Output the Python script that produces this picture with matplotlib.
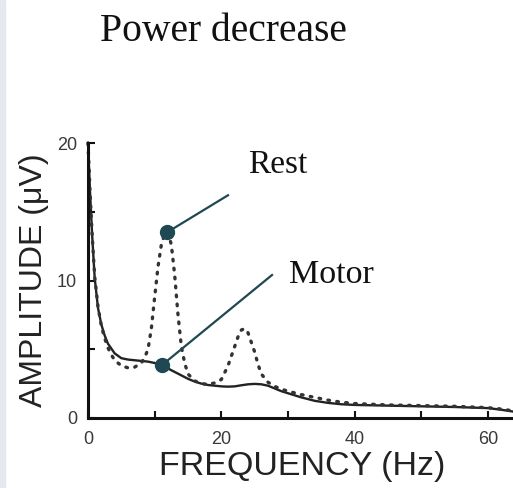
import numpy as np
import matplotlib
matplotlib.use("Agg")
import matplotlib.pyplot as plt
from matplotlib.patches import Rectangle

# 周波数 (Hz) と振幅 (µV) -- 図から読み取った値
motor_freq = [0, 0.3, 0.6, 1.0, 1.5, 2.0, 2.5, 3.0, 4.0, 5.0, 6.0, 7.0, 8.0, 9.0,
              10.0, 11.0, 12.0, 13.0, 14.0, 15.0, 16.0, 17.0, 18.0, 19.0, 20.0,
              21.0, 22.0, 23.0, 24.0, 25.0, 26.0, 27.0, 28.0, 29.0, 30.0, 32.0,
              34.0, 36.0, 38.0, 40.0, 45.0, 50.0, 55.0, 60.0, 62.0, 64.0]
motor_amp = [20, 16.5, 13.5, 10.2, 8.0, 6.8, 6.0, 5.4, 4.7, 4.35, 4.25, 4.2, 4.15,
             4.1, 4.0, 3.85, 3.6, 3.35, 3.1, 2.85, 2.65, 2.5, 2.4, 2.35, 2.3,
             2.28, 2.3, 2.38, 2.45, 2.48, 2.45, 2.35, 2.15, 1.95, 1.8, 1.5,
             1.25, 1.1, 1.0, 0.95, 0.9, 0.85, 0.8, 0.72, 0.6, 0.45]

rest_freq = [0, 0.3, 0.6, 1.0, 1.5, 2.0, 2.5, 3.0, 3.5, 4.0, 5.0, 6.0, 7.0, 8.0,
             8.5, 9.0, 9.5, 10.0, 10.5, 11.0, 11.5, 12.0, 12.5, 13.0, 13.5, 14.0,
             14.5, 15.0, 16.0, 17.0, 18.0, 19.0, 20.0, 21.0, 22.0, 22.5, 23.0,
             23.5, 24.0, 24.5, 25.0, 25.5, 26.0, 27.0, 28.0, 29.0, 30.0, 32.0,
             34.0, 36.0, 38.0, 40.0, 45.0, 50.0, 55.0, 60.0, 62.0, 64.0]
rest_amp = [20, 16.5, 13.5, 10.3, 8.1, 6.7, 5.8, 5.1, 4.6, 4.2, 3.8, 3.65, 3.7,
            4.0, 4.4, 5.0, 6.5, 8.8, 11.0, 12.6, 13.4, 13.5, 12.6, 10.4, 7.5,
            5.2, 4.0, 3.2, 2.7, 2.5, 2.45, 2.55, 2.8, 3.8, 5.2, 5.9, 6.4, 6.5,
            6.2, 5.5, 4.8, 3.9, 3.2, 2.6, 2.3, 2.1, 1.95, 1.7, 1.5, 1.3, 1.15,
            1.05, 0.95, 0.9, 0.85, 0.75, 0.65, 0.5]

# 注釈: 点の位置と線の端
rest_point = (11.85, 13.5)
rest_line_end = (21.0, 16.2)
motor_point = (11.1, 3.85)
motor_line_end = (27.6, 10.4)

W, H = 513, 488
fig = plt.figure(figsize=(W / 100, H / 100), dpi=100)
fig.patch.set_facecolor("white")

# 左端の薄い帯
fig.patches.append(Rectangle((0, 0), 5 / W, 1, transform=fig.transFigure,
                             color="#e4e9ef", zorder=0))

ax = fig.add_axes([88 / W, 70 / H, 426.7 / W, 275 / H])
ax.set_xlim(0, 64)
ax.set_ylim(0, 20)

ax.plot(motor_freq, motor_amp, color="#222222", lw=1.7, clip_on=False)
ax.plot(rest_freq, rest_amp, color="#333333", lw=2.4,
        linestyle=(0, (0.5, 2.2)), dash_capstyle="round", clip_on=False)

teal = "#1f4852"
for pt, end in [(rest_point, rest_line_end), (motor_point, motor_line_end)]:
    ax.plot([pt[0], end[0]], [pt[1], end[1]], color=teal, lw=1.6,
            clip_on=False, zorder=4)
    ax.plot(pt[0], pt[1], "o", color=teal, ms=10, clip_on=False, zorder=5)

for s in ["top", "right"]:
    ax.spines[s].set_visible(False)
for s in ["left", "bottom"]:
    ax.spines[s].set_linewidth(2.2)
    ax.spines[s].set_color("#111111")

ax.set_xticks([0, 20, 40, 60])
ax.set_xticks([10, 30, 50], minor=True)
ax.set_yticks([0, 10, 20])
ax.set_yticks([5, 15], minor=True)
ax.tick_params(which="both", direction="in", length=5, width=1.5, color="#111111")
ax.tick_params(axis="x", which="major", pad=9)
ax.tick_params(axis="y", which="major", pad=8)
for lab in ax.get_xticklabels() + ax.get_yticklabels():
    lab.set_fontfamily("Liberation Sans")
    lab.set_fontsize(13)
    lab.set_color("#3a3a3a")

fig.text(302 / W, 1 - 466 / H, "FREQUENCY (Hz)", family="Liberation Sans",
         fontsize=24.5, color="#222222", ha="center", va="center")
fig.text(34 / W, 1 - 280 / H, "AMPLITUDE (\u03bcV)", family="Liberation Sans",
         fontsize=23, color="#222222", ha="center", va="center", rotation=90)

fig.text(100 / W, 1 - 41 / H, "Power decrease", family="Liberation Serif",
         fontsize=28.5, color="#111111", ha="left", va="baseline")
fig.text(248 / W, 1 - 173 / H, "Rest", family="Liberation Serif",
         fontsize=24, color="#111111", ha="left", va="baseline")
fig.text(289 / W, 1 - 283 / H, "Motor", family="Liberation Serif",
         fontsize=24.5, color="#111111", ha="left", va="baseline")

fig.savefig("out.png", dpi=100)
